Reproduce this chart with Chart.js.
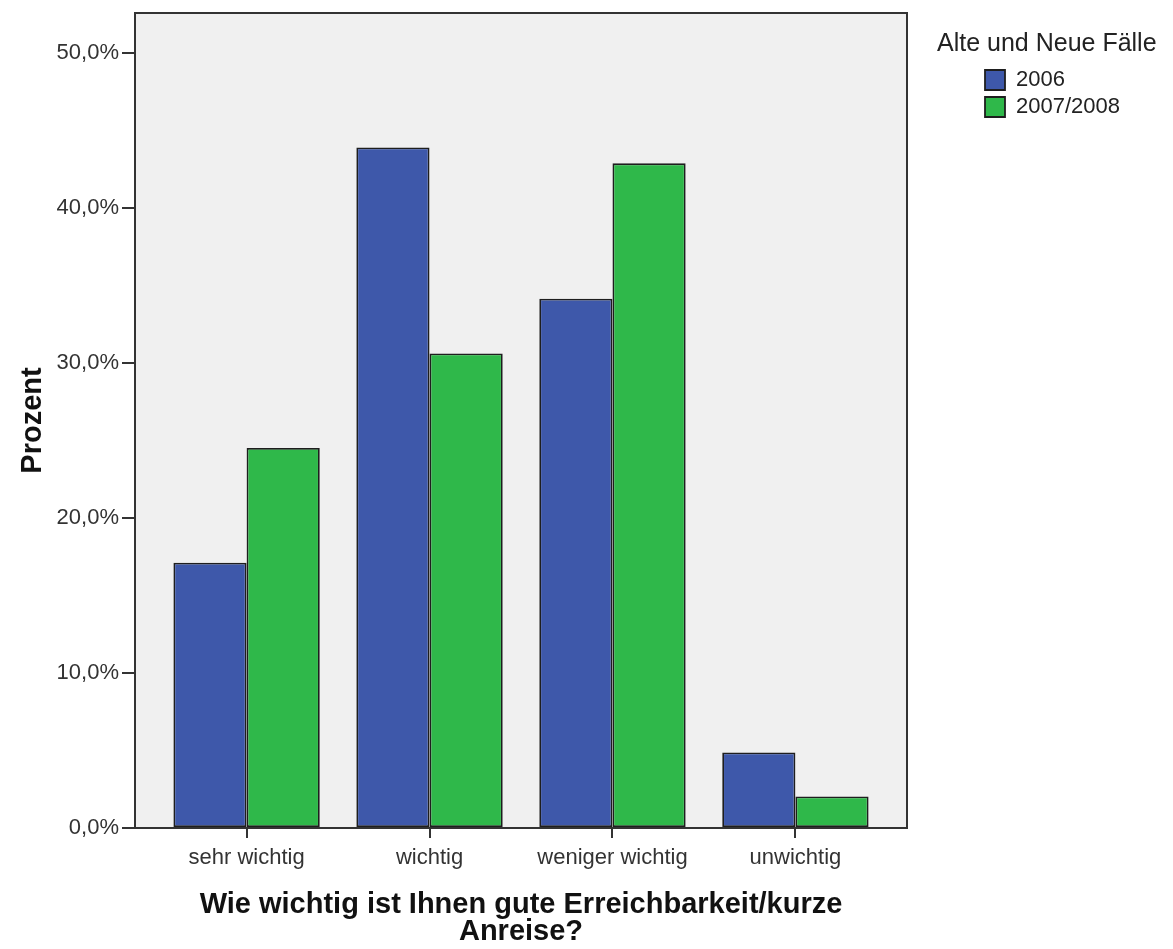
<!DOCTYPE html>
<html>
<head>
<meta charset="utf-8">
<script src="https://cdn.jsdelivr.net/npm/chart.js@4"></script>
<style>
    html, body { margin: 0; padding: 0; background: #fff; }
    #wrap { width: 1173px; height: 949px; position: relative; }
</style>
</head>
<body>
<div id="wrap"><canvas id="myChart"></canvas></div>
<script>
const categories = ['sehr wichtig', 'wichtig', 'weniger wichtig', 'unwichtig']
const seriesNames = ['2006', '2007/2008']
const values2006 = [17.12, 43.91, 34.14, 4.87]
const values2007 = [24.52, 30.61, 42.88, 2.03]
const yTicks = [0, 10, 20, 30, 40, 50]
const legendTitle = 'Alte und Neue Fälle'
const xTitle = ['Wie wichtig ist Ihnen gute Erreichbarkeit/kurze', 'Anreise?']
const yTitle = 'Prozent'

const fontFamily = "'Liberation Sans', Arial, sans-serif"
const plotRight = 907
const legendGap = 73

Chart.defaults.font.family = fontFamily
Chart.defaults.color = '#333'

// grey plot background and frame round the chart area
const plotFrame = {
    id: 'plotFrame',
    beforeDatasetsDraw(chart) {
        let a = chart.chartArea
        let ctx = chart.ctx
        ctx.save()
        ctx.fillStyle = '#f0f0f0'
        ctx.fillRect(a.left, a.top, a.right - a.left, a.bottom - a.top)
        ctx.restore()
    },
    afterDraw(chart) {
        let a = chart.chartArea
        let ctx = chart.ctx
        ctx.save()
        ctx.strokeStyle = '#333'
        ctx.lineWidth = 2
        ctx.strokeRect(a.left, a.top, a.right - a.left, a.bottom - a.top)
        ctx.restore()
    }
}

// legend heading sits left of the legend items (the legend clips its own title)
const legendHeading = {
    id: 'legendHeading',
    afterDraw(chart) {
        let lg = chart.legend
        let ctx = chart.ctx
        ctx.save()
        ctx.font = '25px ' + fontFamily
        ctx.fillStyle = '#222'
        ctx.textBaseline = 'middle'
        ctx.textAlign = 'left'
        ctx.fillText(legendTitle, lg.left - 43, lg.top + 17 + 14)
        ctx.restore()
    }
}

function toPoints(values) {
    return values.map((v, i) => ({x: i, y: v}))
}

function formatPercent(v) {
    return v.toFixed(1).replace('.', ',') + '%'
}

let ctx = document.getElementById('myChart')
let myChart = new Chart(ctx, {
    type: 'bar',
    data: {
        datasets: [{
            label: seriesNames[0],
            data: toPoints(values2006),
            backgroundColor: '#3e58aa',
            borderColor: '#1e1e1e',
            borderWidth: 1.8,
            borderSkipped: false
        }, {
            label: seriesNames[1],
            data: toPoints(values2007),
            backgroundColor: '#2fb84a',
            borderColor: '#1e1e1e',
            borderWidth: 1.8,
            borderSkipped: false
        }]
    },
    options: {
        responsive: true,
        maintainAspectRatio: false,
        animation: false,
        categoryPercentage: 0.8,
        barPercentage: 1.0,
        layout: { padding: { top: 13, left: 0, bottom: 0, right: 0 } },
        plugins: {
            tooltip: { enabled: false },
            legend: {
                position: 'right',
                align: 'start',
                title: {
                    display: true,
                    text: '',
                    font: { size: 25 },
                    padding: { top: 17, bottom: 4 }
                },
                labels: {
                    color: '#222',
                    font: { size: 22 },
                    boxWidth: 20,
                    boxHeight: 20,
                    padding: 5
                }
            }
        },
        scales: {
            x: {
                type: 'linear',
                position: 'bottom',
                offset: false,
                min: -0.61,
                max: 3.61,
                afterFit: s => { s.height = 121 },
                afterBuildTicks: s => { s.ticks = categories.map((c, i) => ({value: i})) },
                ticks: {
                    autoSkip: false,
                    maxRotation: 0,
                    padding: 7,
                    color: '#333',
                    font: { size: 22 },
                    callback: v => categories[v] || ''
                },
                grid: { offset: false, drawOnChartArea: false, tickLength: 10, color: '#333', lineWidth: 2 },
                border: { display: false },
                title: {
                    display: true,
                    text: xTitle,
                    color: '#111',
                    font: { size: 29, weight: 'bold', lineHeight: 0.93 },
                    padding: { top: 0, bottom: 4 }
                }
            },
            y: {
                position: 'left',
                min: 0,
                max: 52.58,
                afterFit: s => { s.width = 135 },
                afterBuildTicks: s => { s.ticks = yTicks.map(v => ({value: v})) },
                ticks: {
                    padding: 3,
                    color: '#333',
                    font: { size: 22, lineHeight: 0.9 },
                    callback: v => formatPercent(v)
                },
                grid: { drawOnChartArea: false, tickLength: 13, color: '#333', lineWidth: 2 },
                border: { display: false },
                title: {
                    display: true,
                    text: yTitle,
                    color: '#111',
                    font: { size: 29, weight: 'bold' },
                    padding: { top: 16, bottom: 0 }
                }
            },
            spacer: {
                type: 'linear',
                axis: 'y',
                position: 'right',
                display: true,
                afterFit: s => { s.width = legendGap },
                ticks: { display: false },
                grid: { display: false },
                border: { display: false }
            }
        }
    },
    plugins: [plotFrame, legendHeading]
})

// push the legend so the plot ends where the reference plot ends
myChart.options.layout.padding.right = Math.max(0, 1173 - plotRight - legendGap - myChart.legend.width)
myChart.update()
</script>
</body>
</html>
